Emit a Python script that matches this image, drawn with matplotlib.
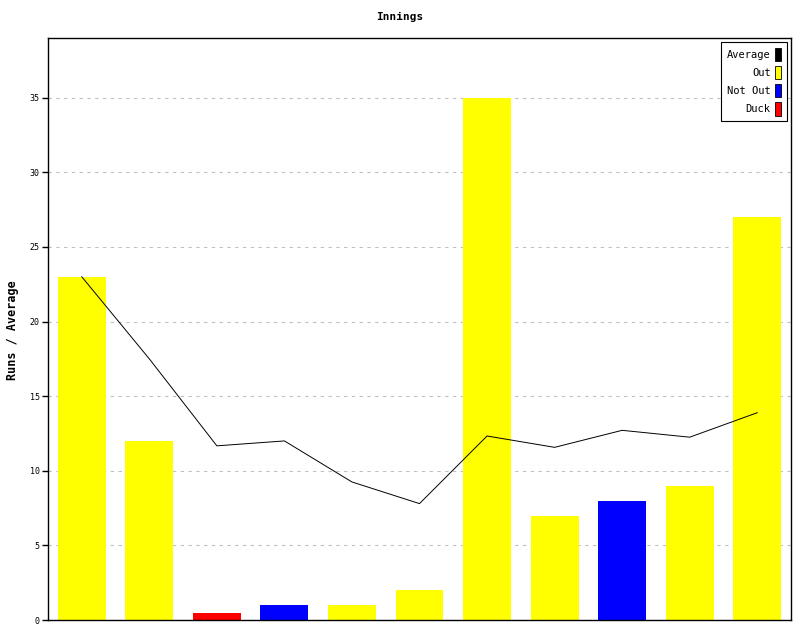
import matplotlib
matplotlib.use("Agg")
import matplotlib.pyplot as plt
from matplotlib.patches import Patch

innings = list(range(1, 12))
runs = [23, 12, 0.5, 1, 1, 2, 35, 7, 8, 9, 27]
status = ["Out", "Out", "Duck", "Not Out", "Out", "Out", "Out", "Out", "Not Out", "Out", "Out"]
average = [23, 17.5, 11.67, 12, 9.25, 7.8, 12.33, 11.57, 12.71, 12.25, 13.89]

colours = {"Average": "black", "Out": "yellow", "Not Out": "blue", "Duck": "red"}

plt.rcParams['font.family'] = ['DejaVu Sans Mono']

fig = plt.figure(figsize=(8, 6.4), dpi=100)
ax = fig.add_axes([0.06, 0.03125, 0.92875, 0.909375])

x = list(range(len(innings)))
ax.bar(x, runs, width=0.71, color=[colours[s] for s in status], zorder=2)
ax.plot(x, average, color="black", linewidth=0.7, zorder=3)

ax.set_xlim(-0.5, len(innings) - 0.5)
ax.set_ylim(0, 39)
ax.set_xticks([])
ax.set_yticks([0, 5, 10, 15, 20, 25, 30, 35])
ax.tick_params(axis="y", labelsize=6, length=4, width=1, pad=2)
ax.yaxis.grid(True, linestyle=(0, (3, 4)), color="#c0c0c0", linewidth=0.8, zorder=0)
for s in ax.spines.values():
    s.set_linewidth(1)

fig.text(0.016, 0.484, "Runs / Average", fontsize=8.5, fontweight="bold",
         rotation=90, ha="center", va="center")
fig.text(0.5, 0.973, "Innings", fontsize=8, fontweight="bold", ha="center", va="center")

handles = [Patch(facecolor=colours[k], edgecolor="black", linewidth=0.6) for k in colours]
leg = ax.legend(handles, list(colours), loc="upper right", markerfirst=False,
                fontsize=7.5, handlelength=0.6, handleheight=1.6, handletextpad=0.4,
                labelspacing=0.45, borderpad=0.55, fancybox=False, framealpha=1,
                edgecolor="black", borderaxespad=0.4)
leg.get_frame().set_linewidth(0.8)
for t in leg.get_texts():
    t.set_ha("right")

fig.savefig("out.png", dpi=100)
